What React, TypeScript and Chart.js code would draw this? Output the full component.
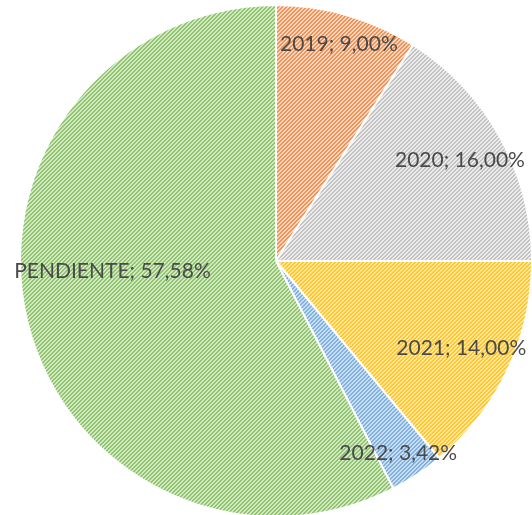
import React, { useEffect, useRef } from "react";
import { Chart, registerables } from "chart.js";

Chart.register(...registerables);

const categories = ["2019", "2020", "2021", "2022", "PENDIENTE"];
const values = [9.0, 16.0, 14.0, 3.42, 57.58];
const valueLabels = ["9,00%", "16,00%", "14,00%", "3,42%", "57,58%"];
const lightColors = ["#F9D5BE", "#EDEDED", "#FFE7A0", "#C8DEF2", "#D2E9C3"];
const darkColors = ["#EE9459", "#C2C2C2", "#FFC62E", "#82B1DE", "#91C46F"];
// label placement: fraction of radius and angular adjustment (degrees)
const labelRadius = [0.88, 0.82, 0.8, 0.89, 0.64];
const labelAngleShift = [0, 0, 0, 1, 10];

function makePattern(light: string, dark: string): CanvasPattern | string {
  const size = 4;
  const c = document.createElement("canvas");
  c.width = size;
  c.height = size;
  const ctx = c.getContext("2d");
  if (!ctx) return light;
  ctx.fillStyle = light;
  ctx.fillRect(0, 0, size, size);
  ctx.fillStyle = dark;
  for (let y = 0; y < size; y++) {
    for (let x = 0; x < size; x++) {
      const k = (x + y) % size;
      if (k === 0 || k === 1) ctx.fillRect(x, y, 1, 1);
    }
  }
  const p = ctx.createPattern(c, "repeat");
  return p || light;
}

const labelPlugin = {
  id: "sliceLabels",
  afterDatasetsDraw(chart: any) {
    const ctx = chart.ctx;
    const meta = chart.getDatasetMeta(0);
    ctx.save();
    ctx.font = "21px Lato, 'Liberation Sans', sans-serif";
    ctx.fillStyle = "#4A4A4A";
    ctx.textAlign = "center";
    ctx.textBaseline = "middle";
    meta.data.forEach((arc: any, i: number) => {
      const { x, y, startAngle, endAngle, outerRadius } = arc.getProps(
        ["x", "y", "startAngle", "endAngle", "outerRadius"],
        true
      );
      const mid = (startAngle + endAngle) / 2 + (labelAngleShift[i] * Math.PI) / 180;
      const r = outerRadius * labelRadius[i];
      const lx = x + Math.cos(mid) * r;
      const ly = y + Math.sin(mid) * r;
      ctx.fillText(categories[i] + "; " + valueLabels[i], lx, ly);
    });
    ctx.restore();
  },
};

export default function App() {
  const ref = useRef<HTMLCanvasElement | null>(null);
  useEffect(() => {
    if (!ref.current) return;
    const bg = values.map((_, i) => makePattern(lightColors[i], darkColors[i]));
    const chart = new Chart(ref.current, {
      type: "pie",
      data: {
        labels: categories,
        datasets: [
          {
            data: values,
            backgroundColor: bg as any,
            borderColor: "#FFFFFF",
            borderWidth: 2,
            hoverOffset: 0,
          },
        ],
      },
      options: {
        animation: false,
        responsive: false,
        maintainAspectRatio: false,
        layout: { padding: { left: 19, right: 0, top: 4, bottom: 4 } },
        plugins: {
          legend: { display: false },
          tooltip: { enabled: false },
        },
      },
      plugins: [labelPlugin],
    });
    return () => chart.destroy();
  }, []);
  return (
    <div
      style={{
        position: "fixed",
        left: 0,
        top: 0,
        width: 532,
        height: 515,
        overflow: "hidden",
        background: "#FFFFFF",
      }}
    >
      <canvas
        ref={ref}
        width={533}
        height={522}
        style={{ position: "absolute", left: 0, top: 0, width: 533, height: 522 }}
      />
    </div>
  );
}
